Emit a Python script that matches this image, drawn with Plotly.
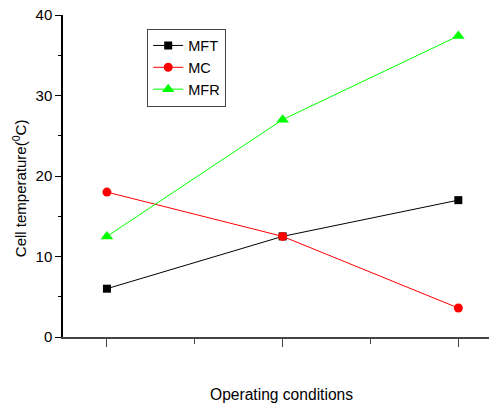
import plotly.graph_objects as go

conditions = [1, 2, 3]
mft = [6.0, 12.5, 17.0]
mc = [18.0, 12.5, 3.6]
mfr = [12.5, 27.0, 37.4]

FAM = "Liberation Sans, Arial"
font = dict(family=FAM, size=15, color="black")

fig = go.Figure()
fig.add_trace(go.Scatter(x=conditions, y=mft, name="MFT", mode="lines+markers",
                         line=dict(color="black", width=1),
                         marker=dict(symbol="square", size=8, color="black")))
fig.add_trace(go.Scatter(x=conditions, y=mc, name="MC", mode="lines+markers",
                         line=dict(color="red", width=1),
                         marker=dict(symbol="circle", size=9, color="red")))
fig.add_trace(go.Scatter(x=conditions, y=mfr, name="MFR", mode="lines+markers",
                         line=dict(color="#00ff00", width=1),
                         marker=dict(symbol="triangle-up", size=11, color="#00ff00")))

# page body adds an 8px margin, so the figure is drawn 8px smaller and offset
fig.update_layout(
    width=489, height=397,
    margin=dict(l=55, r=0, t=7, b=68),
    paper_bgcolor="white", plot_bgcolor="white",
    font=font,
    showlegend=True,
    legend=dict(x=0.194, y=0.958, xanchor="left", yanchor="top",
                bordercolor="#444", borderwidth=1, bgcolor="white",
                font=dict(family=FAM, size=14.5),
                tracegroupgap=0),
    xaxis=dict(range=[0.75, 3.22], showline=True, linecolor="#444", linewidth=1.5,
               tickvals=[1, 2, 3], ticktext=["", "", ""], ticks="outside", ticklen=8,
               tickcolor="#444", showgrid=False, zeroline=False, automargin=False,
               minor=dict(tickvals=[1.5, 2.5], ticks="outside", ticklen=5, tickcolor="#444")),
    yaxis=dict(range=[0, 40], showline=True, linecolor="black", linewidth=1.5,
               tickvals=[0, 10, 20, 30, 40], ticks="outside", ticklen=6,
               tickcolor="black", showgrid=False, zeroline=False, automargin=False,
               ticklabeloverflow="allow",
               tickfont=dict(family=FAM, size=15),
               minor=dict(tickvals=[5, 15, 25, 35], ticks="outside", ticklen=3, tickcolor="black")),
    annotations=[
        dict(text="Operating conditions", xref="paper", yref="paper",
             x=0.5046, y=-0.18, xanchor="center", yanchor="middle",
             showarrow=False, font=dict(family=FAM, size=15.6)),
        dict(text="Cell temperature(<sup>0</sup>C)", xref="paper", yref="paper",
             x=-0.101, y=0.4627, xanchor="center", yanchor="middle", textangle=-90,
             showarrow=False, font=dict(family=FAM, size=15)),
    ],
)

fig.write_html("out.html")
